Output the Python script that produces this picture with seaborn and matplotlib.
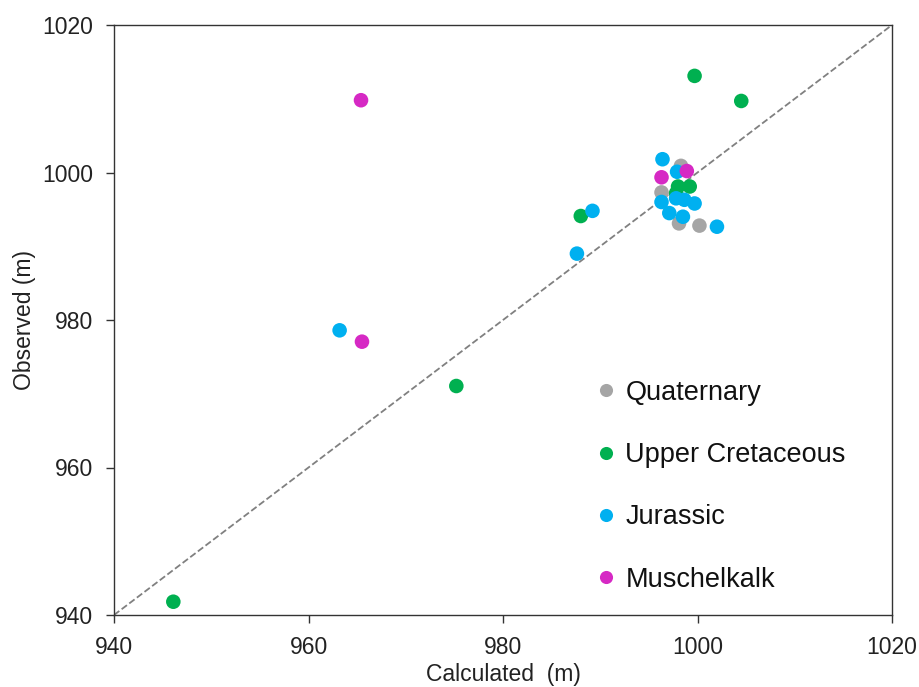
import pandas as pd
import numpy as np
import matplotlib
matplotlib.use('Agg')
import matplotlib.pyplot as plt
import seaborn as sns

# values (m)
quat_calc = [998.3, 996.3, 998.1, 1000.2]
quat_obs = [1000.9, 997.3, 993.1, 992.8]

ucret_calc = [946.1, 975.2, 988.0, 999.7, 1004.5, 998.0, 999.2, 997.8]
ucret_obs = [941.8, 971.05, 994.1, 1013.1, 1009.7, 998.1, 998.1, 997.2]

jur_calc = [963.2, 987.6, 989.2, 996.4, 997.9, 996.3, 997.8, 998.65, 999.7, 997.1, 998.5, 1002.0]
jur_obs = [978.6, 989.0, 994.8, 1001.8, 1000.1, 996.0, 996.5, 996.3, 995.8, 994.5, 994.0, 992.65]

musch_calc = [965.4, 965.5, 996.3, 998.9]
musch_obs = [1009.8, 977.06, 999.35, 1000.2]

groups = ['Quaternary', 'Upper Cretaceous', 'Jurassic', 'Muschelkalk']
colors = ['#A5A5A5', '#00B050', '#00B0F0', '#D629C4']

df = pd.concat([
    pd.DataFrame({'calc': quat_calc, 'obs': quat_obs, 'unit': groups[0]}),
    pd.DataFrame({'calc': ucret_calc, 'obs': ucret_obs, 'unit': groups[1]}),
    pd.DataFrame({'calc': jur_calc, 'obs': jur_obs, 'unit': groups[2]}),
    pd.DataFrame({'calc': musch_calc, 'obs': musch_obs, 'unit': groups[3]}),
])

sns.set_style('white')
plt.rcParams['font.family'] = ['Liberation Sans', 'DejaVu Sans']

fig = plt.figure(figsize=(9.19, 6.87), dpi=100)
# axes box: x 114..892 px, y 25..615 px
ax = fig.add_axes([114 / 919, 1 - 615 / 687, 778 / 919, 590 / 687])

ax.plot([940, 1020], [940, 1020], ls='--', color='#808080', lw=1.3, zorder=1)
sns.scatterplot(data=df, x='calc', y='obs', hue='unit', hue_order=groups,
                palette=colors, s=110, edgecolor='none', ax=ax, zorder=2)

ax.set_xlim(940, 1020)
ax.set_ylim(940, 1020)
ax.set_xticks([940, 960, 980, 1000, 1020])
ax.set_yticks([940, 960, 980, 1000, 1020])
ax.tick_params(bottom=True, left=True, direction='out', length=5.8, width=1,
               color='#333333', labelcolor='#222222', labelsize=16.5, pad=9.4)
for sp in ax.spines.values():
    sp.set_color('#333333')
    sp.set_linewidth(1)
ax.set_xlabel('Calculated  (m)', fontsize=16.5, color='#222222', labelpad=3)
ax.set_ylabel('Observed (m)', fontsize=16.5, color='#222222', labelpad=4)

leg = ax.legend(loc='upper left', bbox_to_anchor=(582 / 919, 1 - 369 / 687),
                bbox_transform=fig.transFigure, frameon=False,
                fontsize=19.5, markerscale=0.9, handlelength=1.0,
                handletextpad=0.2, labelspacing=1.34, borderaxespad=0)
for t in leg.get_texts():
    t.set_color('#111111')

plt.savefig('out.png', dpi=100)
